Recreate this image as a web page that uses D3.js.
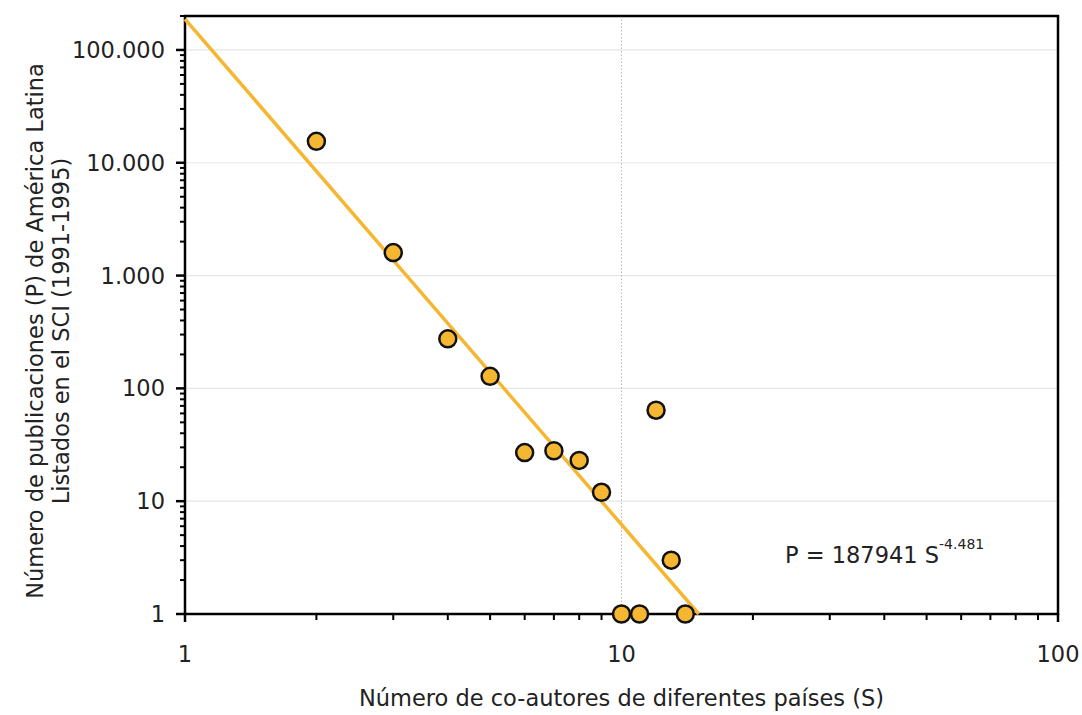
<!DOCTYPE html>
<html><head><meta charset="utf-8">
<script src="https://cdn.jsdelivr.net/npm/d3@7"></script>
<style>body{margin:0;background:#fff}svg{display:block}text{font-family:"DejaVu Sans",Verdana,sans-serif;fill:#222}</style>
</head><body><svg id="c" width="1082" height="715"></svg>
<script>
const coauthors = [2,3,4,5,6,7,8,9,10,11,12,13,14];
const publications = [15500,1600,275,128,27,28,23,12,1,1,64,3,1];
const fitA = 187941, fitB = -4.481;
const yTickValues = [1,10,100,1000,10000,100000];
const xTickValues = [1,10,100];
const xLabel = "Número de co-autores de diferentes países (S)";
const yLabel1 = "Número de publicaciones (P) de América Latina";
const yLabel2 = "Listados en el SCI (1991-1995)";
const eqText = "P = 187941 S";
const eqExp = "-4.481";

const W=1082,H=715,m={l:185,t:16,r:24,b:101};
const svg=d3.select("#c");
const x=d3.scaleLog().domain([1,100]).range([m.l,W-m.r]);
const y=d3.scaleLog().domain([1,200000]).range([H-m.b,m.t]);
const loc=d3.formatLocale({decimal:",",thousands:".",grouping:[3],currency:["",""]});
const fmt=loc.format(",d");
const orange="#F5B731";

// gridlines
svg.append("g").selectAll("line").data(yTickValues.slice(1)).join("line")
 .attr("x1",m.l).attr("x2",W-m.r).attr("y1",d=>y(d)).attr("y2",d=>y(d))
 .attr("stroke","#e6e6e6").attr("stroke-width",1.2);
svg.append("line").attr("x1",x(10)).attr("x2",x(10)).attr("y1",m.t).attr("y2",H-m.b)
 .attr("stroke","#b8b8b8").attr("stroke-width",1).attr("stroke-dasharray","1.5,2");

// minor ticks
const yMinor=[];for(let e=0;e<6;e++)for(let k=2;k<=9;k++){const v=k*10**e;if(v<=200000)yMinor.push(v);}
svg.append("g").selectAll("line").data(yMinor).join("line")
 .attr("x1",m.l-5).attr("x2",m.l).attr("y1",d=>y(d)).attr("y2",d=>y(d)).attr("stroke","#000").attr("stroke-width",2);
svg.append("g").selectAll("line").data(yTickValues).join("line")
 .attr("x1",m.l-9).attr("x2",m.l).attr("y1",d=>y(d)).attr("y2",d=>y(d)).attr("stroke","#000").attr("stroke-width",2.5);
const xMinor=[];for(let e=0;e<2;e++)for(let k=2;k<=9;k++)xMinor.push(k*10**e);
svg.append("g").selectAll("line").data(xMinor).join("line")
 .attr("x1",d=>x(d)).attr("x2",d=>x(d)).attr("y1",H-m.b).attr("y2",H-m.b+6).attr("stroke","#000").attr("stroke-width",2);
svg.append("g").selectAll("line").data(xTickValues).join("line")
 .attr("x1",d=>x(d)).attr("x2",d=>x(d)).attr("y1",H-m.b).attr("y2",H-m.b+8).attr("stroke","#000").attr("stroke-width",2.5);

// tick labels
svg.append("g").selectAll("text").data(yTickValues).join("text")
 .attr("x",m.l-20).attr("y",d=>y(d)).attr("dy","0.36em").attr("text-anchor","end")
 .attr("font-size",22.5).text(d=>fmt(d));
svg.append("g").selectAll("text").data(xTickValues).join("text")
 .attr("x",d=>x(d)).attr("y",H-m.b+48).attr("text-anchor","middle")
 .attr("font-size",22.5).text(d=>fmt(d));

// frame
svg.append("rect").attr("x",m.l).attr("y",m.t).attr("width",W-m.l-m.r).attr("height",H-m.t-m.b)
 .attr("fill","none").attr("stroke","#000").attr("stroke-width",2.5);

// fit line
const sEnd=Math.pow(1/fitA,1/fitB);
svg.append("line").attr("x1",x(1)).attr("y1",y(fitA)).attr("x2",x(sEnd)).attr("y2",y(1))
 .attr("stroke",orange).attr("stroke-width",3.5);

// points
svg.append("g").selectAll("circle").data(coauthors.map((s,i)=>[s,publications[i]])).join("circle")
 .attr("cx",d=>x(d[0])).attr("cy",d=>y(d[1])).attr("r",8.5)
 .attr("fill",orange).attr("stroke","#111").attr("stroke-width",2.5);

// equation
const eq=svg.append("text").attr("x",785).attr("y",563).attr("font-size",22.5);
eq.append("tspan").text(eqText);
eq.append("tspan").attr("dy",-14).attr("font-size",14).text(eqExp);

// axis titles
svg.append("text").attr("x",(m.l+W-m.r)/2).attr("y",706).attr("text-anchor","middle")
 .attr("font-size",22.5).text(xLabel);
const yl=svg.append("text").attr("transform","translate(0,331) rotate(-90)")
 .attr("text-anchor","middle").attr("font-size",22.5);
yl.append("tspan").attr("x",0).attr("y",43).text(yLabel1);
yl.append("tspan").attr("x",0).attr("y",69).text(yLabel2);
</script></body></html>
